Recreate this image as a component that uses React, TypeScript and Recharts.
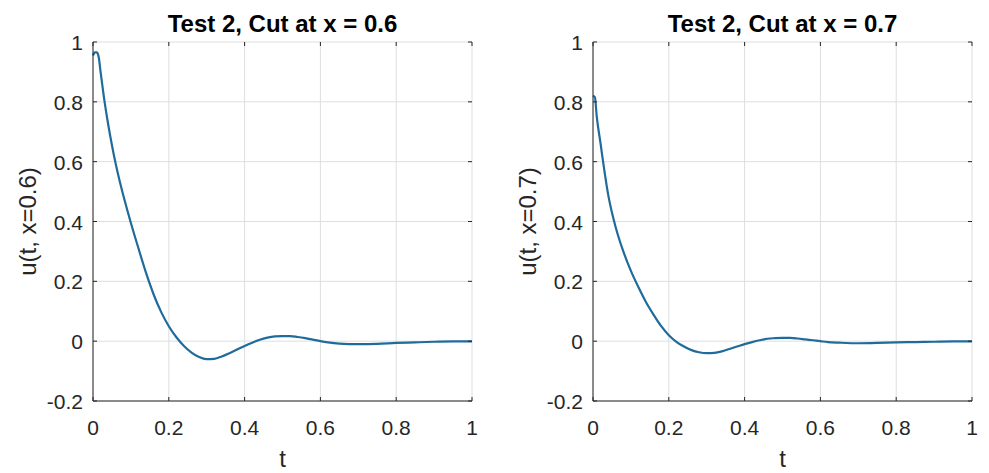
import React from 'react'
import { LineChart, Line, XAxis, YAxis, CartesianGrid } from 'recharts'

// cut at x = 0.6
const T_A = [0, 0.005, 0.01, 0.015, 0.02, 0.03, 0.04, 0.05, 0.06, 0.07, 0.08, 0.09, 0.1, 0.12, 0.14, 0.16, 0.18, 0.2, 0.22, 0.24, 0.26, 0.28, 0.3, 0.32, 0.34, 0.36, 0.38, 0.4, 0.42, 0.44, 0.46, 0.48, 0.5, 0.52, 0.54, 0.56, 0.58, 0.6, 0.62, 0.65, 0.7, 0.75, 0.8, 0.85, 0.9, 0.95, 1]
const U_A = [0.955, 0.965, 0.965, 0.95, 0.9, 0.805, 0.725, 0.655, 0.592, 0.537, 0.487, 0.44, 0.395, 0.31, 0.228, 0.156, 0.097, 0.05, 0.013, -0.016, -0.038, -0.053, -0.06, -0.059, -0.051, -0.04, -0.028, -0.016, -0.005, 0.005, 0.012, 0.016, 0.017, 0.017, 0.014, 0.01, 0.005, 0, -0.004, -0.008, -0.01, -0.009, -0.006, -0.004, -0.002, -0.001, -0.001]

// cut at x = 0.7
const T_B = [0, 0.005, 0.01, 0.02, 0.03, 0.04, 0.05, 0.06, 0.08, 0.1, 0.12, 0.14, 0.16, 0.18, 0.2, 0.22, 0.24, 0.26, 0.28, 0.3, 0.32, 0.34, 0.36, 0.38, 0.4, 0.42, 0.44, 0.46, 0.48, 0.5, 0.52, 0.54, 0.56, 0.58, 0.6, 0.62, 0.65, 0.7, 0.75, 0.8, 0.85, 0.9, 0.95, 1]
const U_B = [0.82, 0.815, 0.75, 0.66, 0.57, 0.49, 0.43, 0.38, 0.3, 0.235, 0.18, 0.13, 0.088, 0.05, 0.02, -0.002, -0.018, -0.03, -0.037, -0.04, -0.039, -0.034, -0.026, -0.018, -0.01, -0.003, 0.003, 0.008, 0.01, 0.011, 0.011, 0.009, 0.006, 0.003, 0, -0.003, -0.005, -0.007, -0.006, -0.004, -0.003, -0.002, -0.001, -0.001]

const X_TICKS = [0, 0.2, 0.4, 0.6, 0.8, 1]
const Y_TICKS = [-0.2, 0, 0.2, 0.4, 0.6, 0.8, 1]

const FONT = 'Liberation Sans, Arial, Helvetica, sans-serif'
const INK = '#262626'
const GRID = '#dedede'
const LINE = '#1f6b9c'

// plot box inside each chart (local svg coords)
const LEFT = 93
const RIGHT = 472
const TOP = 42
const BOTTOM = 401
const TICK = 4

function XTick(props: any) {
  const { x, payload } = props
  return (
    <g>
      <line x1={x} x2={x} y1={BOTTOM} y2={BOTTOM - TICK} stroke={INK} />
      <line x1={x} x2={x} y1={TOP} y2={TOP + TICK} stroke={INK} />
      <text x={x} y={435} textAnchor="middle" fontSize={21} fontFamily={FONT} fill={INK}>
        {String(payload.value)}
      </text>
    </g>
  )
}

function YTick(props: any) {
  const { y, payload } = props
  return (
    <g>
      <line x1={LEFT} x2={LEFT + TICK} y1={y} y2={y} stroke={INK} />
      <line x1={RIGHT} x2={RIGHT - TICK} y1={y} y2={y} stroke={INK} />
      <text x={LEFT - 10} y={y + 8} textAnchor="end" fontSize={21} fontFamily={FONT} fill={INK}>
        {String(Math.round(payload.value * 10) / 10)}
      </text>
    </g>
  )
}

function Panel({ t, u, title, ylabel, left, width }: { t: number[]; u: number[]; title: string; ylabel: string; left: number; width: number }) {
  const data = t.map((tv, i) => ({ t: tv, u: u[i] }))
  const cx = (LEFT + RIGHT) / 2
  return (
    <div style={{ position: 'absolute', left, top: 0, width, height: 473 }}>
      <LineChart width={width} height={473} data={data} margin={{ top: TOP, right: width - RIGHT, bottom: 22, left: 0 }}>
        <CartesianGrid stroke={GRID} horizontalValues={Y_TICKS} verticalValues={X_TICKS} />
        <XAxis dataKey="t" type="number" domain={[0, 1]} ticks={X_TICKS} height={50} tick={<XTick />} tickLine={false} axisLine={{ stroke: INK }} />
        <XAxis xAxisId="top" orientation="top" type="number" domain={[0, 1]} height={0} tick={false} tickLine={false} axisLine={{ stroke: INK }} />
        <YAxis type="number" domain={[-0.2, 1]} ticks={Y_TICKS} width={LEFT} tick={<YTick />} tickLine={false} axisLine={{ stroke: INK }} allowDataOverflow />
        <YAxis yAxisId="r" orientation="right" type="number" domain={[-0.2, 1]} width={0} tick={false} tickLine={false} axisLine={{ stroke: INK }} />
        <Line type="monotone" dataKey="u" stroke={LINE} strokeWidth={2.2} dot={false} isAnimationActive={false} />
      </LineChart>
      <svg width={width} height={473} style={{ position: 'absolute', left: 0, top: 0, pointerEvents: 'none' }}>
        <text x={cx} y={32} textAnchor="middle" fontSize={24} fontWeight="bold" fontFamily={FONT} fill="#000">
          {title}
        </text>
        <text x={cx} y={467} textAnchor="middle" fontSize={24} fontFamily={FONT} fill={INK}>
          t
        </text>
        <text x={36} y={(TOP + BOTTOM) / 2} transform={`rotate(-90 36 ${(TOP + BOTTOM) / 2})`} textAnchor="middle" fontSize={24} fontFamily={FONT} fill={INK}>
          {ylabel}
        </text>
      </svg>
    </div>
  )
}

export default function App() {
  return (
    <div style={{ position: 'absolute', left: 0, top: 0, width: 989, height: 473, background: '#fff' }}>
      <Panel t={T_A} u={U_A} title="Test 2, Cut at x = 0.6" ylabel="u(t, x=0.6)" left={0} width={500} />
      <Panel t={T_B} u={U_B} title="Test 2, Cut at x = 0.7" ylabel="u(t, x=0.7)" left={500} width={489} />
    </div>
  )
}
